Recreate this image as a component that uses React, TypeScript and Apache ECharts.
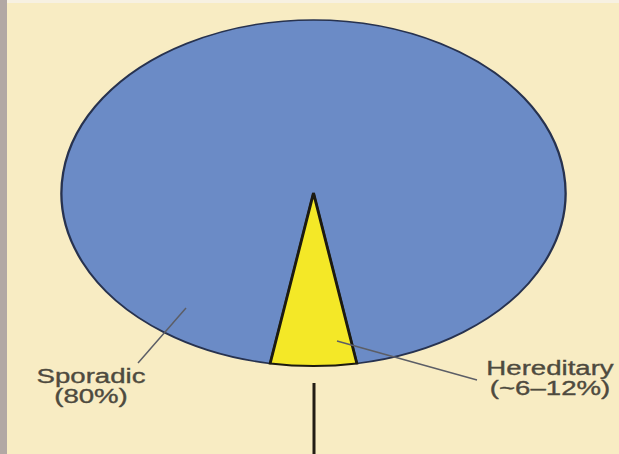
import React, { useEffect, useRef } from "react";
import * as echarts from "echarts";

// ---- data ----
const categories = ["Sporadic", "Hereditary"];
const values = [94.5, 5.5];
const labelTexts = ["Sporadic\n(80%)", "Hereditary\n(~6–12%)"];
const sliceColors = ["#6b8bc6", "#f4e827"];
const sliceStrokes = ["#27324f", "#1c1a10"];

// ---- layout ----
const W = 619;
const H = 454;
const CX = 313.5;
const CY = 193;
const RX = 252;
const RY = 173;

export default function App() {
  const ref = useRef<HTMLDivElement>(null);

  useEffect(() => {
    if (!ref.current) return;
    const chart = echarts.init(ref.current, undefined, { renderer: "svg" });
    const total = values.reduce((a, b) => a + b, 0);
    const last = values[values.length - 1];
    const start0 = Math.PI / 2 + (last / total) * Math.PI;
    const starts: number[] = [];
    let acc = start0;
    values.forEach((v) => {
      starts.push(acc);
      acc += (v / total) * Math.PI * 2;
    });

    const textStyle = {
      font: "20px 'Liberation Sans', Arial, sans-serif",
      fill: "#4e4a3e",
      textAlign: "center",
      textVerticalAlign: "top",
      lineHeight: 20,
      stroke: "#4e4a3e",
      lineWidth: 0.35,
    };

    const option: any = {
      animation: false,
      backgroundColor: "#f8ecc3",
      series: [
        {
          type: "custom",
          coordinateSystem: "none",
          data: categories.map((c, i) => ({ name: c, value: values[i] })),
          renderItem: (params: any, api: any) => {
            const i = params.dataIndex;
            const v = api.value(0) as number;
            const s = starts[i];
            const e = s + (v / total) * Math.PI * 2;
            return {
              type: "sector",
              x: CX,
              y: CY,
              scaleX: RX / RY,
              scaleY: 1,
              shape: { cx: 0, cy: 0, r0: 0, r: RY, startAngle: s, endAngle: e, clockwise: true },
              style: {
                fill: sliceColors[i],
                stroke: sliceStrokes[i],
                lineWidth: i === 0 ? 1.6 : 2,
                strokeNoScale: true,
              },
            };
          },
        },
      ],
      graphic: [
        { type: "rect", shape: { x: 0, y: 0, width: 7, height: H }, style: { fill: "#b2a8a4" }, z: 10 },
        { type: "rect", shape: { x: 7, y: 0, width: W - 7, height: 3 }, style: { fill: "#f7f1e2" }, z: 10 },
        {
          type: "line",
          shape: { x1: 314, y1: 383, x2: 314, y2: H },
          style: { stroke: "#231d14", lineWidth: 3 },
          z: 10,
        },
        {
          type: "line",
          shape: { x1: 186, y1: 308, x2: 138, y2: 363 },
          style: { stroke: "#5c5e66", lineWidth: 1.5 },
          z: 10,
        },
        {
          type: "line",
          shape: { x1: 337, y1: 341, x2: 477, y2: 380 },
          style: { stroke: "#5c5e66", lineWidth: 1.5 },
          z: 10,
        },
        {
          type: "text",
          x: 91,
          y: 366,
          scaleX: 1.38,
          z: 10,
          style: { ...textStyle, text: labelTexts[0] },
        },
        {
          type: "text",
          x: 550,
          y: 358,
          scaleX: 1.38,
          z: 10,
          style: { ...textStyle, text: labelTexts[1] },
        },
      ],
    };
    chart.setOption(option);
    return () => chart.dispose();
  }, []);

  return (
    <div
      ref={ref}
      style={{ position: "fixed", left: 0, top: 0, width: W, height: H }}
    />
  );
}
